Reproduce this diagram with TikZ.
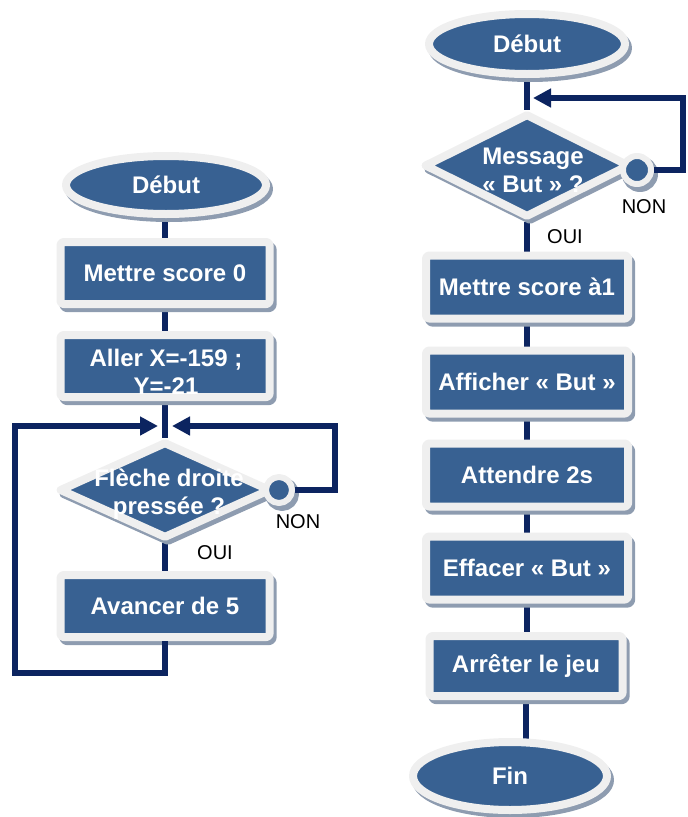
\documentclass[tikz,border=0pt]{standalone}
\usepackage{fontspec}
\setmainfont{Liberation Sans}
\usetikzlibrary{shapes.geometric,arrows.meta,shadows}
\definecolor{boxblue}{HTML}{386192}
\definecolor{rim}{HTML}{EFEFEF}
\definecolor{shade}{HTML}{8E9CB0}
\definecolor{navy}{HTML}{0C2460}
\pgfdeclarelayer{background}
\pgfsetlayers{background,main}
\tikzset{
  shapebase/.style={fill=boxblue, draw=rim, line width=8pt, inner sep=0pt, line join=round,
    general shadow={shadow xshift=3pt, shadow yshift=-4pt, fill=shade, draw=shade, line width=8pt}},
  proc/.style={shapebase, rectangle, rounded corners=3pt, minimum width=#1, minimum height=62pt},
  proc/.default=209pt,
  term/.style={shapebase, ellipse},
  decis/.style={shapebase, diamond},
  knob/.style={shapebase, circle, line width=6pt,
    general shadow={shadow xshift=2pt, shadow yshift=-3pt, fill=shade, draw=shade, line width=6pt}},
  wtxt/.style={text=white, font=\fontsize{24pt}{28pt}\selectfont\bfseries, align=center},
  lbl/.style={text=black, font=\fontsize{20pt}{23pt}\selectfont},
  conn/.style={draw=navy, line width=5.5pt},
  arr/.style={conn, -{Triangle[length=18pt,width=18pt]}}
}
\begin{document}
\begin{tikzpicture}[x=1pt,y=-1pt]
\useasboundingbox (0,0) rectangle (688,817);

% ---------- left flowchart ----------
\node[term, minimum width=200pt, minimum height=58pt, wtxt] (deb1) at (166,185) {Début};
\node[proc, wtxt] (b1) at (165,273) {Mettre score 0};
\node[proc] (b2) at (165,366) {};
\node[wtxt] (b2t) at (166,372) {Aller X=-159 ;\\Y=-21};
\node[decis, minimum width=212pt, minimum height=97pt] (d1) at (165,490) {};
\node[wtxt] (d1t) at (169,494) {Flèche droite\\pressée ?};
\node[knob, minimum size=26pt] (c1) at (279,490) {};
\node[proc, wtxt] (b3) at (165,606) {Avancer de 5};
\node[lbl] (non1) at (298,522) {NON};
\node[lbl] (oui1) at (215,553) {OUI};

\coordinate (m1l) at (158,426);
\coordinate (m1r) at (172,426);
\coordinate (r1) at (335,426);
\coordinate (l1) at (15,673);
\coordinate (l2) at (15,426);

% ---------- right flowchart ----------
\node[term, minimum width=196pt, minimum height=60pt, wtxt] (deb2) at (527,44) {Début};
\node[decis, minimum width=206pt, minimum height=104pt] (d2) at (527,165.5) {};
\node[wtxt] (d2t) at (533,170) {Message\\« But » ?};
\node[knob, minimum size=28pt] (c2) at (637,170) {};
\node[lbl] (non2) at (644,207) {NON};
\node[lbl] (oui2) at (565,237) {OUI};
\node[proc=202pt, minimum height=63pt, wtxt] (b4) at (527,287) {Mettre score à1};
\node[proc=202pt, minimum height=63pt, wtxt] (b5) at (527,382) {Afficher « But »};
\node[proc=202pt, minimum height=63pt, wtxt] (b6) at (527,475) {Attendre 2s};
\node[proc=202pt, minimum height=63pt, wtxt] (b7) at (527,568) {Effacer « But »};
\node[proc=193pt, minimum height=60pt, wtxt] (b8) at (526,666) {Arrêter le jeu};
\node[term, minimum width=194pt, minimum height=68pt, wtxt] (fin) at (510,776) {Fin};

\coordinate (m2) at (533,98);
\coordinate (r2) at (683,98);

% ---------- connectors ----------
\begin{pgfonlayer}{background}
  \draw[conn] (deb1 -| b1) -- (b1);
  \draw[conn] (b1) -- (b2);
  \draw[conn] (b2) -- (d1);
  \draw[conn] (d1) -- (b3);
  \draw[conn] (d1) -- (c1);
  \draw[conn] (deb2) -- (d2);
  \draw[conn] (d2) -- (c2);
  \draw[conn] (d2) -- (b4);
  \draw[conn] (b4) -- (b5);
  \draw[conn] (b5) -- (b6);
  \draw[conn] (b6) -- (b7);
  \draw[conn] (b7) -- (b7 |- b8);
  \draw[conn] (b8) -- (b8 |- fin);
\end{pgfonlayer}
\draw[arr] (c1.east) -| (r1) -- (m1r);
\draw[arr] (b3.south) |- (l1) -- (l2) -- (m1l);
\draw[arr] (c2.east) -| (r2) -- (m2);
\end{tikzpicture}
\end{document}
